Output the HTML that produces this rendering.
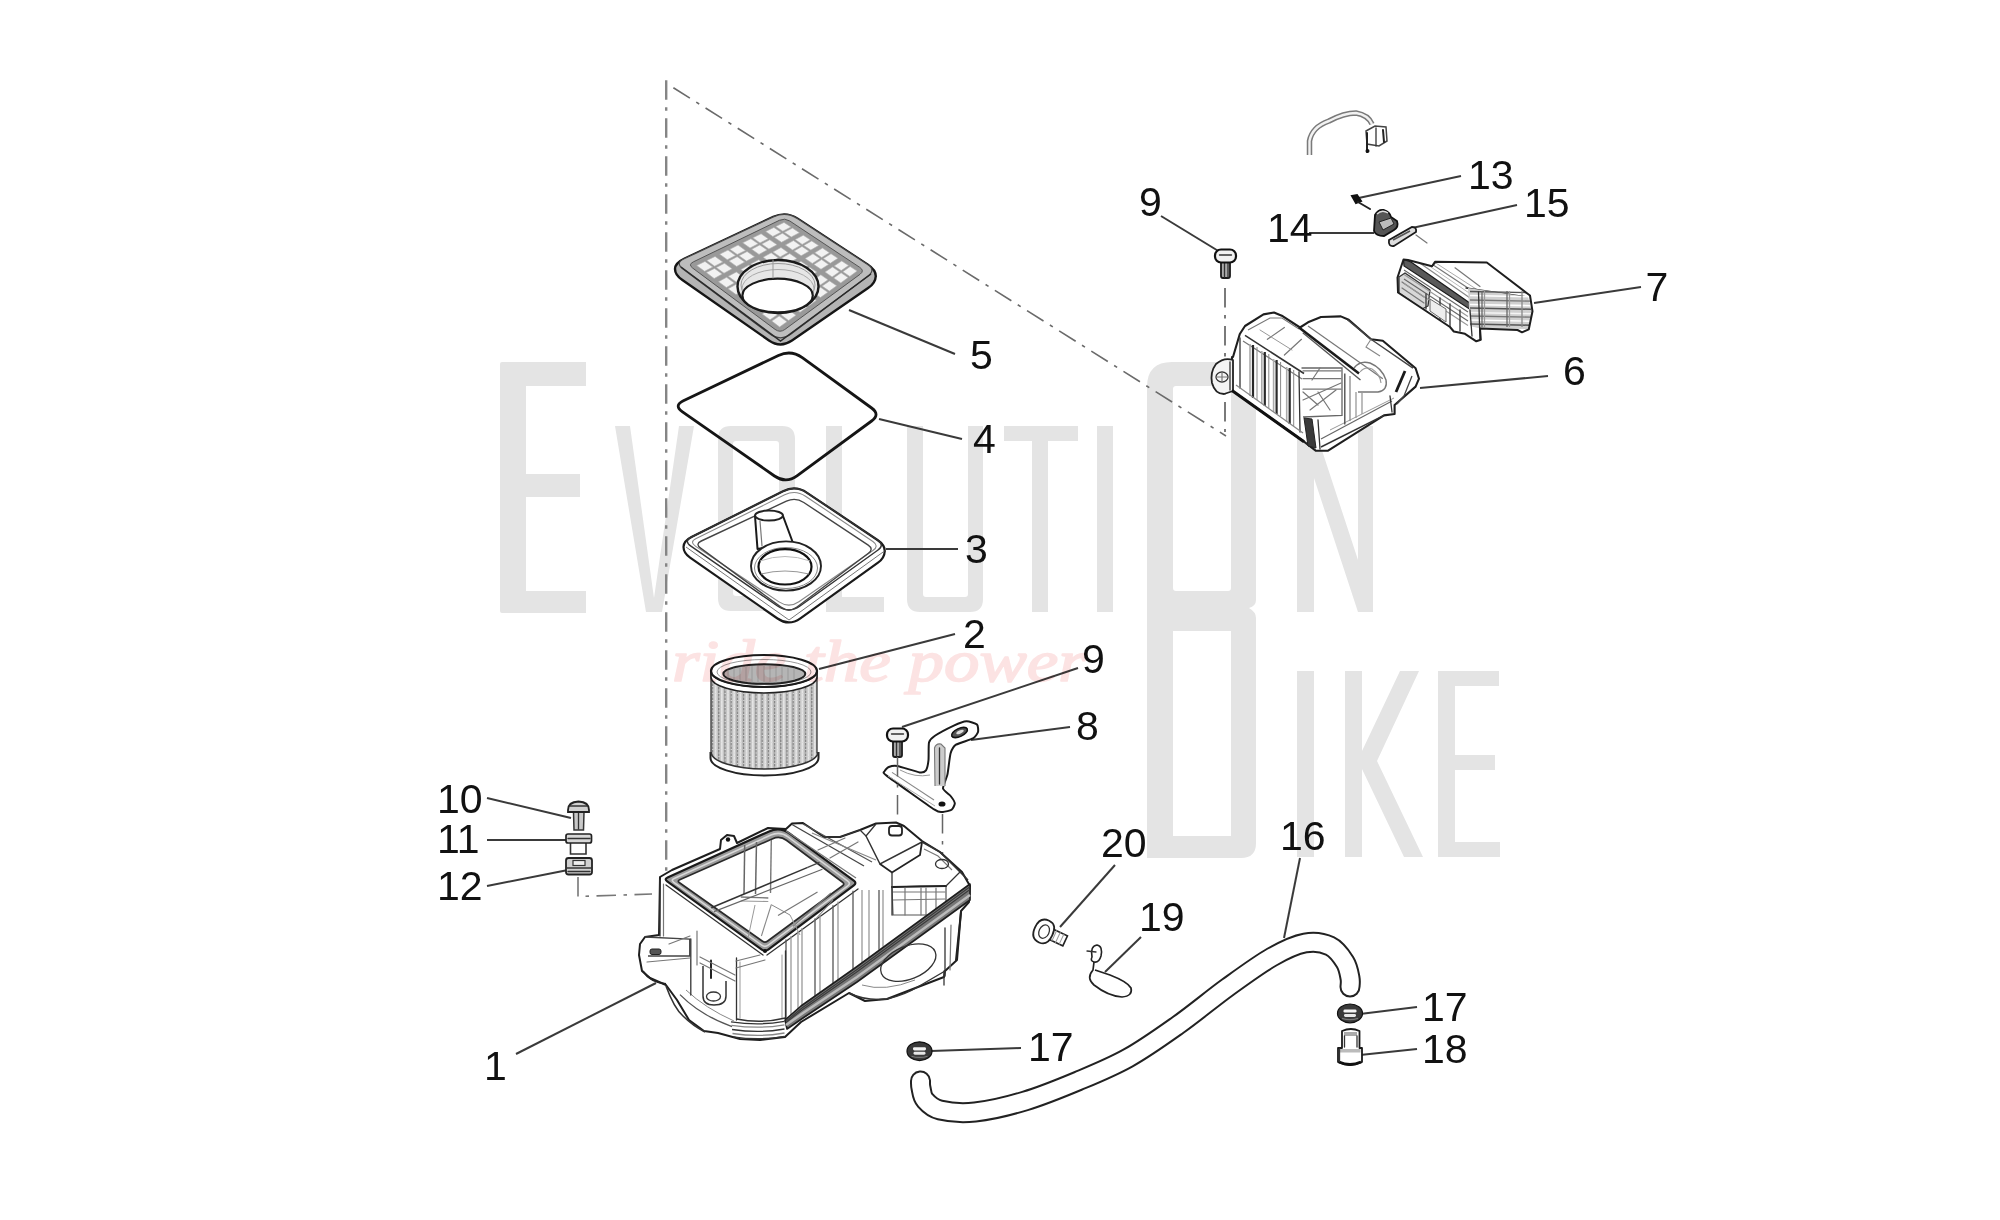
<!DOCTYPE html>
<html><head><meta charset="utf-8">
<style>
html,body{margin:0;padding:0;background:#fff;}
body{width:2000px;height:1220px;overflow:hidden;position:relative;font-family:"Liberation Sans",sans-serif;}
svg{position:absolute;left:0;top:0;filter:blur(0.45px);}
.lbl{font-family:"Liberation Sans",sans-serif;font-size:41px;fill:#111;}
.ld{stroke:#3a3a3a;stroke-width:2;fill:none;}
.dd{stroke:#666;stroke-width:1.6;fill:none;stroke-dasharray:14 5 2 5;}
.k{stroke:#222;stroke-width:2;fill:none;stroke-linejoin:round;stroke-linecap:round;}
.kw{stroke:#222;stroke-width:2;fill:#fff;stroke-linejoin:round;stroke-linecap:round;}
.k3{stroke:#1a1a1a;stroke-width:3;fill:none;stroke-linejoin:round;stroke-linecap:round;}
.k1{stroke:#333;stroke-width:1.3;fill:none;stroke-linejoin:round;stroke-linecap:round;}
.g1{stroke:#777;stroke-width:1.2;fill:none;stroke-linejoin:round;stroke-linecap:round;}
.g2{stroke:#999;stroke-width:1;fill:none;stroke-linejoin:round;stroke-linecap:round;}
</style></head>
<body>
<svg width="2000" height="1220" viewBox="0 0 2000 1220">
<!-- WATERMARK -->
<g id="wm" fill="#e4e4e4">
  <!-- E -->
  <path d="M500,364 Q500,362 502,362 L586,362 L586,386 L526,386 L526,474 L580,474 L580,497 L526,497 L526,591 L586,591 L586,613 L502,613 Q500,613 500,611 Z"/>
  <!-- V -->
  <path d="M615,426 L630,426 L654,598 L679,426 L694,426 L662,612 L646,612 Z"/>
  <!-- O -->
  <path fill-rule="evenodd" d="M731,426 L782,426 Q795,426 795,439 L795,598 Q795,611 782,611 L731,611 Q718,611 718,598 L718,439 Q718,426 731,426 Z M736,441 L776,441 Q779,441 779,444 L779,593 Q779,596 776,596 L736,596 Q733,596 733,593 L733,444 Q733,441 736,441 Z"/>
  <!-- L -->
  <path d="M826,426 L842,426 L842,597 L884,597 L884,612 L826,612 Z"/>
  <!-- U -->
  <path d="M907,426 L923,426 L923,594 Q923,597 926,597 L965,597 Q968,597 968,594 L968,426 L983,426 L983,599 Q983,612 970,612 L920,612 Q907,612 907,599 Z"/>
  <!-- T -->
  <path d="M1004,426 L1078,426 L1078,441 L1048,441 L1048,612 L1032,612 L1032,441 L1004,441 Z"/>
  <!-- I -->
  <rect x="1097" y="426" width="16" height="186"/>
  <!-- big O / B -->
  <path fill-rule="evenodd" d="M1172,362 L1231,362 Q1256,362 1256,387 L1256,600 Q1256,606 1249,608 Q1256,612 1256,618 L1256,843 Q1256,858 1241,858 L1147,858 L1147,387 Q1147,362 1172,362 Z M1176,386 L1228,386 Q1231,386 1231,389 L1231,588 Q1231,591 1228,591 L1176,591 Q1173,591 1173,588 L1173,389 Q1173,386 1176,386 Z M1173,631 L1231,631 L1231,836 L1173,836 Z"/>
  <!-- N -->
  <path d="M1297,426 L1314,426 L1358,560 L1358,426 L1373,426 L1373,612 L1358,612 L1314,478 L1314,612 L1297,612 Z"/>
  <!-- I of IKE -->
  <rect x="1297" y="671" width="17" height="186"/>
  <!-- K -->
  <path d="M1345,671 L1362,671 L1362,751 L1400,671 L1419,671 L1377,761 L1423,857 L1404,857 L1362,769 L1362,857 L1345,857 Z"/>
  <!-- E of IKE -->
  <path d="M1438,671 L1499,671 L1499,686 L1455,686 L1455,755 L1495,755 L1495,770 L1455,770 L1455,842 L1500,842 L1500,857 L1438,857 Z"/>
</g>

<!-- DASH-DOT LINES -->
<g fill="none" stroke-dasharray="19.5 7.5 3.5 7.5">
  <line x1="666.2" y1="80.3" x2="666.2" y2="880" stroke="#858585" stroke-width="2.4"/>
  <line x1="673.4" y1="87.7" x2="1226" y2="436" stroke="#6a6a6a" stroke-width="1.6"/>
  <line x1="1225" y1="288" x2="1225" y2="432" stroke="#7a7a7a" stroke-width="2"/>
</g>
<!-- LEADER LINES -->
<g class="ld">
  <line x1="849" y1="310" x2="955" y2="354"/>
  <line x1="879" y1="419" x2="962" y2="439"/>
  <line x1="886" y1="549" x2="958" y2="549"/>
  <line x1="819" y1="669" x2="955" y2="634"/>
  <line x1="902" y1="727" x2="1078" y2="668"/>
  <line x1="971" y1="740" x2="1070" y2="727"/>
  <line x1="1161" y1="216" x2="1220" y2="252"/>
  <line x1="1354" y1="199" x2="1461" y2="176"/>
  <line x1="1412" y1="228" x2="1517" y2="205"/>
  <line x1="1309" y1="233" x2="1374" y2="233"/>
  <line x1="1534" y1="303" x2="1641" y2="287"/>
  <line x1="1420" y1="388" x2="1548" y2="376"/>
  <line x1="487" y1="798" x2="571" y2="818"/>
  <line x1="487" y1="840" x2="568" y2="840"/>
  <line x1="487" y1="886" x2="568" y2="870"/>
  <line x1="516" y1="1054" x2="656" y2="983"/>
  <line x1="1115" y1="865" x2="1060" y2="927"/>
  <line x1="1300" y1="858" x2="1284" y2="938"/>
  <line x1="1141" y1="937" x2="1105" y2="972"/>
  <line x1="1417" y1="1007" x2="1360" y2="1014"/>
  <line x1="1417" y1="1049" x2="1360" y2="1055"/>
  <line x1="1021" y1="1048" x2="931" y2="1051"/>
</g>

<!-- LABELS -->
<g class="lbl">
  <text x="970" y="369">5</text>
  <text x="973" y="453">4</text>
  <text x="965" y="563">3</text>
  <text x="963" y="648">2</text>
  <text x="1082" y="673">9</text>
  <text x="1076" y="740">8</text>
  <text x="1139" y="216">9</text>
  <text x="1468" y="189">13</text>
  <text x="1524" y="217">15</text>
  <text x="1267" y="242">14</text>
  <text x="1645.5" y="301">7</text>
  <text x="1563" y="385">6</text>
  <text x="437" y="813">10</text>
  <text x="437" y="853">11</text>
  <text x="437" y="900">12</text>
  <text x="484" y="1080">1</text>
  <text x="1101" y="857">20</text>
  <text x="1280" y="850">16</text>
  <text x="1139" y="931">19</text>
  <text x="1422" y="1021">17</text>
  <text x="1422" y="1063">18</text>
  <text x="1028" y="1061">17</text>
</g>

<g id="parts">
<path d="M675.0,269.0 Q675.0,263.0 684.1,258.8 L773.3,216.9 Q786.0,211.0 797.7,218.7 L867.6,264.5 Q876.0,270.0 875.8,276.5 L875.7,276.5 Q875.5,283.0 868.1,288.1 L792.0,340.6 Q780.5,348.5 769.0,340.5 L682.4,280.1 Q675.0,275.0 675.0,269.0 Z" fill="#b4b4b4" stroke="#151515" stroke-width="2.4" stroke-linejoin="round"/>
<path d="M683.0,269.0 Q675.0,263.0 684.1,258.8 L773.3,216.9 Q786.0,211.0 797.7,218.7 L867.6,264.5 Q876.0,270.0 868.0,276.0 L791.7,333.6 Q780.5,342.0 769.3,333.6 Z" fill="#bdbdbd" stroke="#444" stroke-width="1.2"/>
<path d="M692.7,268.1 Q687.9,264.5 693.3,261.9 L779.4,220.3 Q784.8,217.7 789.8,221.0 L859.8,267.4 Q864.8,270.7 860.0,274.3 L784.8,329.5 Q780.0,333.0 775.1,329.4 Z" fill="#999" stroke="#555" stroke-width="1"/>
<path d="M696.7,265.5 L705.0,261.4 L712.8,267.1 L704.6,271.3 Z" fill="#f2f2f2" stroke="#b0b0b0" stroke-width="0.6"/>
<path d="M706.8,260.5 L715.1,256.4 L722.8,262.0 L714.6,266.2 Z" fill="#f2f2f2" stroke="#b0b0b0" stroke-width="0.6"/>
<path d="M706.3,272.6 L714.5,268.4 L722.2,274.1 L714.2,278.5 Z" fill="#f2f2f2" stroke="#b0b0b0" stroke-width="0.6"/>
<path d="M716.3,267.5 L724.5,263.3 L732.1,268.8 L724.0,273.2 Z" fill="#f2f2f2" stroke="#b0b0b0" stroke-width="0.6"/>
<path d="M718.5,281.7 L726.6,277.3 L734.3,283.0 L726.4,287.5 Z" fill="#f2f2f2" stroke="#b0b0b0" stroke-width="0.6"/>
<path d="M728.3,276.3 L736.4,271.9 L744.0,277.5 L736.1,282.0 Z" fill="#f2f2f2" stroke="#b0b0b0" stroke-width="0.6"/>
<path d="M728.1,288.8 L736.1,284.3 L743.8,290.0 L736.0,294.6 Z" fill="#f2f2f2" stroke="#b0b0b0" stroke-width="0.6"/>
<path d="M737.8,283.3 L745.7,278.7 L753.4,284.3 L745.6,288.9 Z" fill="#f2f2f2" stroke="#b0b0b0" stroke-width="0.6"/>
<path d="M740.4,297.9 L748.1,293.1 L755.9,298.8 L748.2,303.7 Z" fill="#f2f2f2" stroke="#b0b0b0" stroke-width="0.6"/>
<path d="M749.9,292.1 L757.7,287.4 L765.3,292.9 L757.6,297.8 Z" fill="#f2f2f2" stroke="#b0b0b0" stroke-width="0.6"/>
<path d="M750.0,305.0 L757.6,300.1 L765.4,305.8 L757.8,310.8 Z" fill="#f2f2f2" stroke="#b0b0b0" stroke-width="0.6"/>
<path d="M759.3,299.0 L767.0,294.2 L774.7,299.7 L767.1,304.7 Z" fill="#f2f2f2" stroke="#b0b0b0" stroke-width="0.6"/>
<path d="M762.2,314.0 L769.7,309.0 L777.5,314.7 L770.0,319.8 Z" fill="#f2f2f2" stroke="#b0b0b0" stroke-width="0.6"/>
<path d="M771.4,307.9 L778.9,302.8 L786.6,308.4 L779.1,313.5 Z" fill="#f2f2f2" stroke="#b0b0b0" stroke-width="0.6"/>
<path d="M771.8,321.1 L779.2,316.0 L787.0,321.7 L779.6,327.0 Z" fill="#f2f2f2" stroke="#b0b0b0" stroke-width="0.6"/>
<path d="M780.9,314.8 L788.3,309.6 L796.0,315.2 L788.6,320.5 Z" fill="#f2f2f2" stroke="#b0b0b0" stroke-width="0.6"/>
<path d="M719.7,254.2 L728.0,250.1 L735.5,255.5 L727.3,259.7 Z" fill="#f2f2f2" stroke="#b0b0b0" stroke-width="0.6"/>
<path d="M729.8,249.2 L738.1,245.1 L745.5,250.4 L737.3,254.5 Z" fill="#f2f2f2" stroke="#b0b0b0" stroke-width="0.6"/>
<path d="M729.0,260.9 L737.2,256.7 L744.7,262.1 L736.6,266.4 Z" fill="#f2f2f2" stroke="#b0b0b0" stroke-width="0.6"/>
<path d="M739.0,255.7 L747.1,251.5 L754.6,256.8 L746.5,261.1 Z" fill="#f2f2f2" stroke="#b0b0b0" stroke-width="0.6"/>
<path d="M740.8,269.5 L748.9,265.1 L756.4,270.4 L748.4,275.0 Z" fill="#f2f2f2" stroke="#b0b0b0" stroke-width="0.6"/>
<path d="M750.6,264.1 L758.7,259.7 L766.1,264.9 L758.1,269.4 Z" fill="#f2f2f2" stroke="#b0b0b0" stroke-width="0.6"/>
<path d="M750.1,276.2 L758.1,271.6 L765.6,277.0 L757.7,281.7 Z" fill="#f2f2f2" stroke="#b0b0b0" stroke-width="0.6"/>
<path d="M759.8,270.6 L767.7,266.1 L775.1,271.3 L767.3,276.0 Z" fill="#f2f2f2" stroke="#b0b0b0" stroke-width="0.6"/>
<path d="M762.0,284.7 L769.8,280.0 L777.3,285.4 L769.6,290.2 Z" fill="#f2f2f2" stroke="#b0b0b0" stroke-width="0.6"/>
<path d="M771.5,279.0 L779.3,274.3 L786.7,279.5 L779.0,284.3 Z" fill="#f2f2f2" stroke="#b0b0b0" stroke-width="0.6"/>
<path d="M771.3,291.5 L779.0,286.6 L786.5,292.0 L778.9,297.0 Z" fill="#f2f2f2" stroke="#b0b0b0" stroke-width="0.6"/>
<path d="M780.7,285.5 L788.3,280.7 L795.7,285.9 L788.2,290.9 Z" fill="#f2f2f2" stroke="#b0b0b0" stroke-width="0.6"/>
<path d="M783.1,300.0 L790.7,295.0 L798.2,300.4 L790.7,305.5 Z" fill="#f2f2f2" stroke="#b0b0b0" stroke-width="0.6"/>
<path d="M792.3,293.9 L799.9,288.8 L807.3,294.1 L799.8,299.2 Z" fill="#f2f2f2" stroke="#b0b0b0" stroke-width="0.6"/>
<path d="M792.4,306.8 L799.8,301.6 L807.4,307.0 L800.0,312.3 Z" fill="#f2f2f2" stroke="#b0b0b0" stroke-width="0.6"/>
<path d="M801.5,300.4 L808.9,295.3 L816.3,300.5 L809.0,305.8 Z" fill="#f2f2f2" stroke="#b0b0b0" stroke-width="0.6"/>
<path d="M742.7,242.8 L750.9,238.8 L758.2,243.8 L750.0,248.0 Z" fill="#f2f2f2" stroke="#b0b0b0" stroke-width="0.6"/>
<path d="M752.8,237.8 L761.1,233.8 L768.2,238.7 L760.0,242.9 Z" fill="#f2f2f2" stroke="#b0b0b0" stroke-width="0.6"/>
<path d="M751.7,249.2 L759.8,244.9 L767.1,250.0 L759.0,254.4 Z" fill="#f2f2f2" stroke="#b0b0b0" stroke-width="0.6"/>
<path d="M761.7,244.0 L769.8,239.8 L777.0,244.7 L768.9,249.1 Z" fill="#f2f2f2" stroke="#b0b0b0" stroke-width="0.6"/>
<path d="M763.1,257.2 L771.2,252.8 L778.4,257.9 L770.5,262.4 Z" fill="#f2f2f2" stroke="#b0b0b0" stroke-width="0.6"/>
<path d="M772.9,251.9 L781.0,247.5 L788.1,252.4 L780.2,256.9 Z" fill="#f2f2f2" stroke="#b0b0b0" stroke-width="0.6"/>
<path d="M772.1,263.6 L780.1,259.0 L787.3,264.1 L779.5,268.8 Z" fill="#f2f2f2" stroke="#b0b0b0" stroke-width="0.6"/>
<path d="M781.8,258.0 L789.7,253.5 L796.9,258.4 L789.1,263.1 Z" fill="#f2f2f2" stroke="#b0b0b0" stroke-width="0.6"/>
<path d="M783.6,271.6 L791.4,266.9 L798.6,272.0 L791.0,276.8 Z" fill="#f2f2f2" stroke="#b0b0b0" stroke-width="0.6"/>
<path d="M793.1,265.9 L800.9,261.2 L808.0,266.1 L800.4,270.9 Z" fill="#f2f2f2" stroke="#b0b0b0" stroke-width="0.6"/>
<path d="M792.6,278.0 L800.3,273.1 L807.5,278.2 L800.0,283.2 Z" fill="#f2f2f2" stroke="#b0b0b0" stroke-width="0.6"/>
<path d="M802.0,272.0 L809.6,267.2 L816.8,272.1 L809.2,277.1 Z" fill="#f2f2f2" stroke="#b0b0b0" stroke-width="0.6"/>
<path d="M804.0,286.0 L811.6,281.0 L818.9,286.1 L811.4,291.2 Z" fill="#f2f2f2" stroke="#b0b0b0" stroke-width="0.6"/>
<path d="M813.3,279.9 L820.8,274.8 L828.0,279.8 L820.5,284.9 Z" fill="#f2f2f2" stroke="#b0b0b0" stroke-width="0.6"/>
<path d="M813.1,292.4 L820.5,287.2 L827.8,292.3 L820.4,297.6 Z" fill="#f2f2f2" stroke="#b0b0b0" stroke-width="0.6"/>
<path d="M822.1,286.1 L829.6,280.9 L836.7,285.8 L829.4,291.1 Z" fill="#f2f2f2" stroke="#b0b0b0" stroke-width="0.6"/>
<path d="M765.7,231.5 L773.9,227.4 L781.0,232.2 L772.8,236.4 Z" fill="#f2f2f2" stroke="#b0b0b0" stroke-width="0.6"/>
<path d="M775.8,226.5 L784.0,222.4 L791.0,227.0 L782.8,231.2 Z" fill="#f2f2f2" stroke="#b0b0b0" stroke-width="0.6"/>
<path d="M774.4,237.4 L782.5,233.2 L789.5,238.0 L781.5,242.3 Z" fill="#f2f2f2" stroke="#b0b0b0" stroke-width="0.6"/>
<path d="M784.3,232.3 L792.5,228.1 L799.4,232.7 L791.3,237.0 Z" fill="#f2f2f2" stroke="#b0b0b0" stroke-width="0.6"/>
<path d="M785.4,245.0 L793.5,240.6 L800.5,245.4 L792.5,249.9 Z" fill="#f2f2f2" stroke="#b0b0b0" stroke-width="0.6"/>
<path d="M795.2,239.6 L803.3,235.2 L810.2,239.8 L802.2,244.4 Z" fill="#f2f2f2" stroke="#b0b0b0" stroke-width="0.6"/>
<path d="M794.1,251.0 L802.0,246.4 L809.1,251.2 L801.2,255.8 Z" fill="#f2f2f2" stroke="#b0b0b0" stroke-width="0.6"/>
<path d="M803.8,245.4 L811.7,240.9 L818.6,245.5 L810.8,250.1 Z" fill="#f2f2f2" stroke="#b0b0b0" stroke-width="0.6"/>
<path d="M805.2,258.5 L813.0,253.8 L820.0,258.6 L812.3,263.4 Z" fill="#f2f2f2" stroke="#b0b0b0" stroke-width="0.6"/>
<path d="M814.7,252.8 L822.5,248.0 L829.4,252.7 L821.7,257.5 Z" fill="#f2f2f2" stroke="#b0b0b0" stroke-width="0.6"/>
<path d="M813.9,264.5 L821.6,259.6 L828.6,264.4 L821.0,269.3 Z" fill="#f2f2f2" stroke="#b0b0b0" stroke-width="0.6"/>
<path d="M823.3,258.5 L831.0,253.7 L837.9,258.3 L830.3,263.3 Z" fill="#f2f2f2" stroke="#b0b0b0" stroke-width="0.6"/>
<path d="M825.0,272.0 L832.5,267.0 L839.5,271.8 L832.1,276.9 Z" fill="#f2f2f2" stroke="#b0b0b0" stroke-width="0.6"/>
<path d="M834.2,265.9 L841.7,260.9 L848.6,265.5 L841.2,270.6 Z" fill="#f2f2f2" stroke="#b0b0b0" stroke-width="0.6"/>
<path d="M833.7,278.0 L841.1,272.8 L848.1,277.6 L840.8,282.9 Z" fill="#f2f2f2" stroke="#b0b0b0" stroke-width="0.6"/>
<path d="M842.8,271.7 L850.2,266.5 L857.1,271.1 L849.8,276.4 Z" fill="#f2f2f2" stroke="#b0b0b0" stroke-width="0.6"/>
<ellipse cx="778" cy="286.5" rx="40.5" ry="26.5" fill="#e6e6e6" stroke="#1a1a1a" stroke-width="2.4"/>
<ellipse cx="778" cy="285" rx="37" ry="21.5" fill="none" stroke="#999" stroke-width="1"/>
<ellipse cx="778" cy="289" rx="36" ry="19.5" fill="none" stroke="#aaa" stroke-width="1"/>
<ellipse cx="777.6" cy="295.5" rx="35.2" ry="16.8" fill="#fff" stroke="#1a1a1a" stroke-width="2.2"/>
<line class="g2" x1="773.0" y1="260.0" x2="773.0" y2="278.0" />
<path d="M681.0,267.0 L780.5,341.0 L871.0,274.0" fill="none" stroke="#2a2a2a" stroke-width="1.5"/>
<path d="M682.5,411.8 Q673.5,405.5 683.4,400.8 L778.4,355.5 Q791.0,349.5 802.3,357.7 L871.6,408.0 Q880.5,414.5 871.6,421.0 L797.3,475.7 Q786.0,484.0 774.5,476.0 Z" fill="none" stroke="#151515" stroke-width="2.8" stroke-linejoin="round"/>
<path d="M683.5,547.0 Q683.5,541.0 691.5,537.0 L783.0,491.3 Q795.5,485.0 807.1,492.8 L877.5,540.0 Q885.0,545.0 884.8,551.5 L884.7,551.5 Q884.5,558.0 878.0,562.7 L800.4,618.3 Q789.0,626.5 777.5,618.5 L690.1,557.6 Q683.5,553.0 683.5,547.0 Z" fill="#fff" stroke="#1a1a1a" stroke-width="2.2" stroke-linejoin="round"/>
<path d="M690.9,546.1 Q683.5,541.0 691.5,537.0 L783.0,491.3 Q795.5,485.0 807.1,492.8 L877.5,540.0 Q885.0,545.0 877.7,550.3 L800.4,605.8 Q789.0,614.0 777.5,606.0 Z" fill="none" stroke="#333" stroke-width="1.4" stroke-linejoin="round"/>
<path d="M695.7,546.4 Q689.0,542.0 696.2,538.5 L784.7,494.8 Q795.5,489.5 805.5,496.2 L872.9,541.5 Q879.5,546.0 872.9,550.5 L798.9,601.7 Q789.0,608.5 779.0,601.9 Z" fill="none" stroke="#888" stroke-width="1.1" stroke-linejoin="round"/>
<path d="M700.6,548.1 Q695.0,544.0 701.3,541.0 L786.4,501.2 Q795.5,497.0 803.8,502.5 L868.2,545.1 Q874.0,549.0 868.4,553.2 L797.0,607.0 Q789.0,613.0 780.9,607.1 Z" fill="none" stroke="#444" stroke-width="1.4" stroke-linejoin="round"/>
<path d="M686,547 L789,620 L884.5,551" fill="none" stroke="#777" stroke-width="1"/>
<path d="M755,516 L757.5,549 L793,543 L783,516" fill="#fff" stroke="#1a1a1a" stroke-width="2" stroke-linejoin="round"/>
<ellipse class="kw" cx="769.0" cy="515.6" rx="14.0" ry="5.0" stroke-width="2"/>
<line class="g1" x1="760.0" y1="521.0" x2="762.0" y2="546.0" />
<ellipse cx="786" cy="566" rx="35" ry="24.6" fill="#fff" stroke="#222" stroke-width="1.9"/>
<ellipse cx="786" cy="568" rx="31.5" ry="20.5" fill="none" stroke="#888" stroke-width="1"/>
<ellipse cx="785" cy="566.8" rx="26.5" ry="17.7" fill="#fff" stroke="#111" stroke-width="2.2"/>
<path d="M761,574 Q785,568 809,574" fill="none" stroke="#999" stroke-width="1.1"/>
<path d="M760,561 Q785,552 810,561" fill="none" stroke="#bbb" stroke-width="1"/>
<clipPath id="c2"><path d="M711.0,671.0 L711.0,677.0 L713.0,681.4 L715.0,683.1 L717.0,684.4 L719.0,685.5 L721.0,686.4 L723.0,687.1 L725.0,687.8 L727.0,688.5 L729.0,689.0 L731.0,689.5 L733.0,690.0 L735.0,690.4 L737.0,690.8 L739.0,691.1 L741.0,691.4 L743.0,691.7 L745.0,691.9 L747.0,692.2 L749.0,692.3 L751.0,692.5 L753.0,692.7 L755.0,692.8 L757.0,692.9 L759.0,692.9 L761.0,693.0 L763.0,693.0 L765.0,693.0 L767.0,693.0 L769.0,692.9 L771.0,692.9 L773.0,692.8 L775.0,692.7 L777.0,692.5 L779.0,692.3 L781.0,692.2 L783.0,691.9 L785.0,691.7 L787.0,691.4 L789.0,691.1 L791.0,690.8 L793.0,690.4 L795.0,690.0 L797.0,689.5 L799.0,689.0 L801.0,688.5 L803.0,687.8 L805.0,687.1 L807.0,686.4 L809.0,685.5 L811.0,684.4 L813.0,683.1 L815.0,681.4 L817.0,677.0 L817.0,671.0 L817.0,752.0 L817.0,754.3 L815.0,757.2 L813.0,758.9 L811.0,760.2 L809.0,761.2 L807.0,762.2 L805.0,763.0 L803.0,763.7 L801.0,764.3 L799.0,764.9 L797.0,765.4 L795.0,765.9 L793.0,766.3 L791.0,766.7 L789.0,767.1 L787.0,767.4 L785.0,767.7 L783.0,767.9 L781.0,768.2 L779.0,768.4 L777.0,768.5 L775.0,768.7 L773.0,768.8 L771.0,768.9 L769.0,768.9 L767.0,769.0 L765.0,769.0 L763.0,769.0 L761.0,769.0 L759.0,768.9 L757.0,768.8 L755.0,768.7 L753.0,768.6 L751.0,768.4 L749.0,768.3 L747.0,768.0 L745.0,767.8 L743.0,767.5 L741.0,767.2 L739.0,766.9 L737.0,766.5 L735.0,766.1 L733.0,765.7 L731.0,765.2 L729.0,764.6 L727.0,764.0 L725.0,763.3 L723.0,762.6 L721.0,761.7 L719.0,760.7 L717.0,759.5 L715.0,758.1 L713.0,756.0 L711.0,752.0 L711.0,752.0 Z"/></clipPath>
<g clip-path="url(#c2)"><rect x="709" y="665" width="112" height="110" fill="#c4c4c4"/>
<line x1="712.5" y1="665" x2="712.5" y2="775" stroke="#888" stroke-width="1.3"/>
<line x1="715.6" y1="665" x2="715.6" y2="775" stroke="#e6e6e6" stroke-width="1.7"/>
<line x1="718.7" y1="665" x2="718.7" y2="775" stroke="#888" stroke-width="1.3"/>
<line x1="721.8" y1="665" x2="721.8" y2="775" stroke="#e6e6e6" stroke-width="1.7"/>
<line x1="724.9" y1="665" x2="724.9" y2="775" stroke="#888" stroke-width="1.3"/>
<line x1="728.0" y1="665" x2="728.0" y2="775" stroke="#e6e6e6" stroke-width="1.7"/>
<line x1="731.1" y1="665" x2="731.1" y2="775" stroke="#888" stroke-width="1.3"/>
<line x1="734.2" y1="665" x2="734.2" y2="775" stroke="#e6e6e6" stroke-width="1.7"/>
<line x1="737.3" y1="665" x2="737.3" y2="775" stroke="#888" stroke-width="1.3"/>
<line x1="740.4" y1="665" x2="740.4" y2="775" stroke="#e6e6e6" stroke-width="1.7"/>
<line x1="743.5" y1="665" x2="743.5" y2="775" stroke="#888" stroke-width="1.3"/>
<line x1="746.6" y1="665" x2="746.6" y2="775" stroke="#e6e6e6" stroke-width="1.7"/>
<line x1="749.7" y1="665" x2="749.7" y2="775" stroke="#888" stroke-width="1.3"/>
<line x1="752.8" y1="665" x2="752.8" y2="775" stroke="#e6e6e6" stroke-width="1.7"/>
<line x1="755.9" y1="665" x2="755.9" y2="775" stroke="#888" stroke-width="1.3"/>
<line x1="759.0" y1="665" x2="759.0" y2="775" stroke="#e6e6e6" stroke-width="1.7"/>
<line x1="762.1" y1="665" x2="762.1" y2="775" stroke="#888" stroke-width="1.3"/>
<line x1="765.2" y1="665" x2="765.2" y2="775" stroke="#e6e6e6" stroke-width="1.7"/>
<line x1="768.3" y1="665" x2="768.3" y2="775" stroke="#888" stroke-width="1.3"/>
<line x1="771.4" y1="665" x2="771.4" y2="775" stroke="#e6e6e6" stroke-width="1.7"/>
<line x1="774.5" y1="665" x2="774.5" y2="775" stroke="#888" stroke-width="1.3"/>
<line x1="777.6" y1="665" x2="777.6" y2="775" stroke="#e6e6e6" stroke-width="1.7"/>
<line x1="780.7" y1="665" x2="780.7" y2="775" stroke="#888" stroke-width="1.3"/>
<line x1="783.8" y1="665" x2="783.8" y2="775" stroke="#e6e6e6" stroke-width="1.7"/>
<line x1="786.9" y1="665" x2="786.9" y2="775" stroke="#888" stroke-width="1.3"/>
<line x1="790.0" y1="665" x2="790.0" y2="775" stroke="#e6e6e6" stroke-width="1.7"/>
<line x1="793.1" y1="665" x2="793.1" y2="775" stroke="#888" stroke-width="1.3"/>
<line x1="796.2" y1="665" x2="796.2" y2="775" stroke="#e6e6e6" stroke-width="1.7"/>
<line x1="799.3" y1="665" x2="799.3" y2="775" stroke="#888" stroke-width="1.3"/>
<line x1="802.4" y1="665" x2="802.4" y2="775" stroke="#e6e6e6" stroke-width="1.7"/>
<line x1="805.5" y1="665" x2="805.5" y2="775" stroke="#888" stroke-width="1.3"/>
<line x1="808.6" y1="665" x2="808.6" y2="775" stroke="#e6e6e6" stroke-width="1.7"/>
<line x1="811.7" y1="665" x2="811.7" y2="775" stroke="#888" stroke-width="1.3"/>
<line x1="814.8" y1="665" x2="814.8" y2="775" stroke="#e6e6e6" stroke-width="1.7"/>
<line x1="817.9" y1="665" x2="817.9" y2="775" stroke="#888" stroke-width="1.3"/>
<line x1="821.0" y1="665" x2="821.0" y2="775" stroke="#e6e6e6" stroke-width="1.7"/>
<line x1="709" y1="676.0" x2="821" y2="676.0" stroke="#d8d8d8" stroke-width="0.9" stroke-dasharray="1.5 1.6"/>
<line x1="709" y1="679.5" x2="821" y2="679.5" stroke="#d8d8d8" stroke-width="0.9" stroke-dasharray="1.5 1.6"/>
<line x1="709" y1="683.0" x2="821" y2="683.0" stroke="#d8d8d8" stroke-width="0.9" stroke-dasharray="1.5 1.6"/>
<line x1="709" y1="686.5" x2="821" y2="686.5" stroke="#d8d8d8" stroke-width="0.9" stroke-dasharray="1.5 1.6"/>
<line x1="709" y1="690.0" x2="821" y2="690.0" stroke="#d8d8d8" stroke-width="0.9" stroke-dasharray="1.5 1.6"/>
<line x1="709" y1="693.5" x2="821" y2="693.5" stroke="#d8d8d8" stroke-width="0.9" stroke-dasharray="1.5 1.6"/>
<line x1="709" y1="697.0" x2="821" y2="697.0" stroke="#d8d8d8" stroke-width="0.9" stroke-dasharray="1.5 1.6"/>
<line x1="709" y1="700.5" x2="821" y2="700.5" stroke="#d8d8d8" stroke-width="0.9" stroke-dasharray="1.5 1.6"/>
<line x1="709" y1="704.0" x2="821" y2="704.0" stroke="#d8d8d8" stroke-width="0.9" stroke-dasharray="1.5 1.6"/>
<line x1="709" y1="707.5" x2="821" y2="707.5" stroke="#d8d8d8" stroke-width="0.9" stroke-dasharray="1.5 1.6"/>
<line x1="709" y1="711.0" x2="821" y2="711.0" stroke="#d8d8d8" stroke-width="0.9" stroke-dasharray="1.5 1.6"/>
<line x1="709" y1="714.5" x2="821" y2="714.5" stroke="#d8d8d8" stroke-width="0.9" stroke-dasharray="1.5 1.6"/>
<line x1="709" y1="718.0" x2="821" y2="718.0" stroke="#d8d8d8" stroke-width="0.9" stroke-dasharray="1.5 1.6"/>
<line x1="709" y1="721.5" x2="821" y2="721.5" stroke="#d8d8d8" stroke-width="0.9" stroke-dasharray="1.5 1.6"/>
<line x1="709" y1="725.0" x2="821" y2="725.0" stroke="#d8d8d8" stroke-width="0.9" stroke-dasharray="1.5 1.6"/>
<line x1="709" y1="728.5" x2="821" y2="728.5" stroke="#d8d8d8" stroke-width="0.9" stroke-dasharray="1.5 1.6"/>
<line x1="709" y1="732.0" x2="821" y2="732.0" stroke="#d8d8d8" stroke-width="0.9" stroke-dasharray="1.5 1.6"/>
<line x1="709" y1="735.5" x2="821" y2="735.5" stroke="#d8d8d8" stroke-width="0.9" stroke-dasharray="1.5 1.6"/>
<line x1="709" y1="739.0" x2="821" y2="739.0" stroke="#d8d8d8" stroke-width="0.9" stroke-dasharray="1.5 1.6"/>
<line x1="709" y1="742.5" x2="821" y2="742.5" stroke="#d8d8d8" stroke-width="0.9" stroke-dasharray="1.5 1.6"/>
<line x1="709" y1="746.0" x2="821" y2="746.0" stroke="#d8d8d8" stroke-width="0.9" stroke-dasharray="1.5 1.6"/>
<line x1="709" y1="749.5" x2="821" y2="749.5" stroke="#d8d8d8" stroke-width="0.9" stroke-dasharray="1.5 1.6"/>
<line x1="709" y1="753.0" x2="821" y2="753.0" stroke="#d8d8d8" stroke-width="0.9" stroke-dasharray="1.5 1.6"/>
<line x1="709" y1="756.5" x2="821" y2="756.5" stroke="#d8d8d8" stroke-width="0.9" stroke-dasharray="1.5 1.6"/>
<line x1="709" y1="760.0" x2="821" y2="760.0" stroke="#d8d8d8" stroke-width="0.9" stroke-dasharray="1.5 1.6"/>
<line x1="709" y1="763.5" x2="821" y2="763.5" stroke="#d8d8d8" stroke-width="0.9" stroke-dasharray="1.5 1.6"/>
<line x1="709" y1="767.0" x2="821" y2="767.0" stroke="#d8d8d8" stroke-width="0.9" stroke-dasharray="1.5 1.6"/>
<line x1="709" y1="770.5" x2="821" y2="770.5" stroke="#d8d8d8" stroke-width="0.9" stroke-dasharray="1.5 1.6"/>
<line x1="709" y1="774.0" x2="821" y2="774.0" stroke="#d8d8d8" stroke-width="0.9" stroke-dasharray="1.5 1.6"/>
<line x1="709" y1="777.5" x2="821" y2="777.5" stroke="#d8d8d8" stroke-width="0.9" stroke-dasharray="1.5 1.6"/>
</g>
<path d="M710.5,752 A54,17.5 0 0 0 818.5,752 L818.5,758 A54,17.5 0 0 1 710.5,758 Z" fill="#fff" stroke="none"/>
<path d="M710.5,752 L710.5,758 A54,17.5 0 0 0 818.5,758 L818.5,752" fill="none" stroke="#222" stroke-width="2"/>
<path d="M711,752 A53.5,17 0 0 0 818,752" fill="none" stroke="#333" stroke-width="1.6"/>
<line class="k1" x1="711.0" y1="671.0" x2="711.0" y2="753.0" stroke="#222" stroke-width="1.8"/>
<line class="k1" x1="817.0" y1="671.0" x2="817.0" y2="753.0" stroke="#222" stroke-width="1.8"/>
<path d="M711,671 A53,16 0 0 0 817,671 L817,677 A53,16 0 0 1 711,677 Z" fill="#fff" stroke="#222" stroke-width="1.6"/>
<ellipse cx="764" cy="671" rx="53" ry="16" fill="#fff" stroke="#1a1a1a" stroke-width="2.2"/>
<ellipse cx="764" cy="672" rx="47" ry="12.5" fill="none" stroke="#999" stroke-width="1"/>
<clipPath id="c2h"><ellipse cx="764.3" cy="674" rx="40" ry="9"/></clipPath>
<ellipse cx="764.3" cy="674" rx="41" ry="9.8" fill="#b5b5b5" stroke="#222" stroke-width="2"/>
<line x1="728.0" y1="666" x2="728.0" y2="683" stroke="#999" stroke-width="1" clip-path="url(#c2h)"/>
<line x1="734.0" y1="666" x2="734.0" y2="683" stroke="#999" stroke-width="1" clip-path="url(#c2h)"/>
<line x1="740.0" y1="666" x2="740.0" y2="683" stroke="#999" stroke-width="1" clip-path="url(#c2h)"/>
<line x1="746.0" y1="666" x2="746.0" y2="683" stroke="#999" stroke-width="1" clip-path="url(#c2h)"/>
<line x1="752.0" y1="666" x2="752.0" y2="683" stroke="#999" stroke-width="1" clip-path="url(#c2h)"/>
<line x1="758.0" y1="666" x2="758.0" y2="683" stroke="#999" stroke-width="1" clip-path="url(#c2h)"/>
<line x1="764.0" y1="666" x2="764.0" y2="683" stroke="#999" stroke-width="1" clip-path="url(#c2h)"/>
<line x1="770.0" y1="666" x2="770.0" y2="683" stroke="#999" stroke-width="1" clip-path="url(#c2h)"/>
<line x1="776.0" y1="666" x2="776.0" y2="683" stroke="#999" stroke-width="1" clip-path="url(#c2h)"/>
<line x1="782.0" y1="666" x2="782.0" y2="683" stroke="#999" stroke-width="1" clip-path="url(#c2h)"/>
<line x1="788.0" y1="666" x2="788.0" y2="683" stroke="#999" stroke-width="1" clip-path="url(#c2h)"/>
<line x1="794.0" y1="666" x2="794.0" y2="683" stroke="#999" stroke-width="1" clip-path="url(#c2h)"/>
<rect x="893.0" y="740.0" width="9.0" height="17.0" rx="2" fill="#aaa" stroke="#1a1a1a" stroke-width="1.8"/>
<line class="k1" x1="896.5" y1="742.0" x2="896.5" y2="756.0" stroke="#fff" stroke-width="1.6"/>
<line class="k1" x1="900.0" y1="742.0" x2="900.0" y2="756.0" stroke="#777" stroke-width="1.2"/>
<rect x="887.0" y="728.5" width="21.0" height="13.0" rx="6.0" fill="#f2f2f2" stroke="#111" stroke-width="2.2"/>
<line class="k1" x1="891.5" y1="734.0" x2="903.5" y2="734.0" stroke="#888" stroke-width="1.6"/>
<rect x="1221.0" y="261.0" width="9.0" height="17.0" rx="2" fill="#aaa" stroke="#1a1a1a" stroke-width="1.8"/>
<line class="k1" x1="1224.5" y1="263.0" x2="1224.5" y2="277.0" stroke="#fff" stroke-width="1.6"/>
<line class="k1" x1="1228.0" y1="263.0" x2="1228.0" y2="277.0" stroke="#777" stroke-width="1.2"/>
<rect x="1215.0" y="249.5" width="21.0" height="13.0" rx="6.0" fill="#f2f2f2" stroke="#111" stroke-width="2.2"/>
<line class="k1" x1="1219.5" y1="255.0" x2="1231.5" y2="255.0" stroke="#888" stroke-width="1.6"/>
<path d="M884.5,771.4 C884.7,770.5 887.5,767.5 888.8,767.0 C890.1,766.5 894.2,765.5 897.3,766.0 C900.4,766.5 916.8,772.0 919.7,772.4 C922.6,772.8 925.1,771.5 926.0,770.3 C926.9,769.1 928.2,762.8 928.5,760.0 C928.8,757.2 928.4,745.0 929.0,742.6 C929.6,740.2 932.1,737.7 934.6,736.0 C937.1,734.3 950.6,727.1 953.8,725.6 C957.0,724.1 964.2,721.4 966.5,721.3 C968.8,721.2 975.9,723.4 977.0,724.5 C978.1,725.6 978.4,730.6 978.0,732.0 C977.6,733.4 975.2,737.1 973.0,738.4 C970.8,739.7 958.2,743.2 956.0,744.7 C953.8,746.2 951.5,750.3 950.6,753.3 C949.7,756.3 948.2,771.1 947.4,774.6 C946.6,778.1 942.7,786.3 943.0,788.4 C943.3,790.5 949.4,794.5 950.6,796.0 C951.8,797.5 954.7,801.9 954.8,803.3 C954.9,804.7 952.8,808.8 951.6,809.7 C950.4,810.6 944.7,811.9 943.0,811.9 C941.3,811.9 940.2,813.3 934.6,809.7 C929.0,806.1 891.6,779.4 886.6,775.6 C881.6,771.8 884.3,772.3 884.5,771.4 Z" fill="#fff" stroke="#1a1a1a" stroke-width="2" stroke-linejoin="round"/>
<path d="M935,786 L934.5,748 Q936,743 941,744 L945,748 L945,786" fill="#ccc" stroke="#777" stroke-width="1.1"/>
<line class="k1" x1="939.5" y1="748.0" x2="939.5" y2="784.0" stroke="#fff" stroke-width="1.5"/>
<path d="M892,772.4 L934,800" fill="none" stroke="#888" stroke-width="1.1"/>
<path d="M900,770 Q915,778 930,775" fill="none" stroke="#999" stroke-width="1"/>
<path d="M888,776 L935,806" fill="none" stroke="#aaa" stroke-width="1"/>
<ellipse cx="959.5" cy="732.5" rx="8.5" ry="4" transform="rotate(-25 959.5 732.5)" fill="#555" stroke="#111" stroke-width="1.6"/>
<ellipse cx="960" cy="732" rx="4" ry="1.6" transform="rotate(-25 960 732)" fill="#ddd"/>
<ellipse cx="942" cy="804" rx="3.5" ry="2.6" fill="#111"/>
<line x1="897.5" y1="757" x2="897.5" y2="822" stroke="#666" stroke-width="1.5" stroke-dasharray="19.5 7.5 3.5 7.5"/>
<line x1="942.5" y1="814" x2="942.5" y2="858" stroke="#666" stroke-width="1.5" stroke-dasharray="19.5 7.5 3.5 7.5"/>
<path d="M660.0,877.0 L672.0,870.0 L720.0,849.0 L721.0,840.0 L727.0,835.0 L734.0,836.0 L737.0,843.0 L768.0,828.0 L786.0,829.0 L792.0,823.5 L803.0,823.0 L824.0,837.0 L840.0,837.0 L860.0,830.0 L876.0,823.5 L896.0,822.5 L904.0,826.0 L922.0,841.0 L940.0,852.0 L962.0,872.0 L970.0,886.0 L969.0,902.0 L961.0,911.0 L957.0,960.0 L945.0,971.0 L944.0,977.0 L918.0,987.0 L887.0,999.0 L865.0,1001.0 L849.0,993.0 L801.0,1022.0 L785.0,1037.0 L760.0,1040.0 L740.0,1039.0 L718.0,1033.0 L704.0,1031.0 L689.0,1020.0 L677.0,1000.0 L666.0,985.0 L650.0,978.0 L642.0,971.0 L639.0,955.0 L640.0,944.0 L645.0,937.0 L659.0,935.0 Z" fill="#fff" stroke="#1e1e1e" stroke-width="2" stroke-linejoin="round"/>
<path d="M667.2,881.3 Q664.0,879.0 667.6,877.4 L769.1,831.4 Q780.0,826.5 789.7,833.6 L853.8,880.6 Q857.0,883.0 853.8,885.4 L768.2,949.6 Q765.0,952.0 761.8,949.7 Z M679.5,882.7 Q677.0,881.0 679.7,879.8 L772.7,838.7 Q780.0,835.5 786.4,840.3 L842.6,882.2 Q845.0,884.0 842.6,885.8 L767.4,941.2 Q765.0,943.0 762.5,941.3 Z" fill="#9a9a9a" fill-rule="evenodd" stroke="none"/>
<path d="M673.8,882.3 Q670.5,880.0 674.2,878.4 L770.9,835.1 Q780.0,831.0 788.0,836.9 L847.8,881.1 Q851.0,883.5 847.8,885.9 L768.2,945.1 Q765.0,947.5 761.7,945.2 Z" fill="none" stroke="#d8d8d8" stroke-width="1.6" stroke-linejoin="round"/>
<path d="M667.2,881.3 Q664.0,879.0 667.6,877.4 L769.1,831.4 Q780.0,826.5 789.7,833.6 L853.8,880.6 Q857.0,883.0 853.8,885.4 L768.2,949.6 Q765.0,952.0 761.8,949.7 Z" fill="none" stroke="#1a1a1a" stroke-width="2.2" stroke-linejoin="round"/>
<path d="M679.5,882.7 Q677.0,881.0 679.7,879.8 L772.7,838.7 Q780.0,835.5 786.4,840.3 L842.6,882.2 Q845.0,884.0 842.6,885.8 L767.4,941.2 Q765.0,943.0 762.5,941.3 Z" fill="none" stroke="#2a2a2a" stroke-width="1.7" stroke-linejoin="round"/>
<line class="k1" x1="666.0" y1="885.0" x2="763.0" y2="955.0" stroke-width="1.6"/>
<line class="k1" x1="767.0" y1="955.0" x2="858.0" y2="889.0" stroke-width="1.4"/>
<circle cx="765" cy="951" r="2" fill="#111"/>
<circle cx="728" cy="839.5" r="2.2" fill="#111"/>
<line x1="744.7" y1="845.0" x2="744.0" y2="894.0" stroke="#666" stroke-width="1.5"/>
<line x1="756.5" y1="842.0" x2="755.5" y2="894.0" stroke="#666" stroke-width="1.5"/>
<line x1="771.3" y1="840.0" x2="770.5" y2="893.0" stroke="#777" stroke-width="1.4"/>
<line x1="740.8" y1="897.0" x2="768.3" y2="898.0" stroke="#777" stroke-width="1.3"/>
<line x1="740.8" y1="901.0" x2="768.3" y2="901.5" stroke="#999" stroke-width="1.1"/>
<line x1="711.3" y1="907.7" x2="807.7" y2="867.4" stroke="#333" stroke-width="1.5"/>
<line x1="714.0" y1="911.6" x2="822.4" y2="869.3" stroke="#666" stroke-width="1.2"/>
<line x1="807.7" y1="867.4" x2="819.5" y2="862.4" stroke="#444" stroke-width="1.3"/>
<line x1="778.0" y1="915.5" x2="817.5" y2="892.0" stroke="#777" stroke-width="1.2"/>
<line x1="793.0" y1="926.4" x2="831.0" y2="893.0" stroke="#777" stroke-width="1.2"/>
<line x1="813.6" y1="921.4" x2="833.0" y2="900.0" stroke="#888" stroke-width="1.1"/>
<line x1="761.4" y1="936.0" x2="771.3" y2="904.7" stroke="#888" stroke-width="1.1"/>
<line x1="748.0" y1="938.0" x2="755.0" y2="905.0" stroke="#999" stroke-width="1.0"/>
<line x1="771.3" y1="904.7" x2="790.0" y2="915.0" stroke="#888" stroke-width="1.0"/>
<line x1="790.0" y1="915.0" x2="800.0" y2="935.0" stroke="#999" stroke-width="1.0"/>
<line x1="792.0" y1="824.5" x2="864.0" y2="866.0" stroke="#444" stroke-width="1.3"/>
<line x1="803.0" y1="824.0" x2="872.0" y2="862.0" stroke="#555" stroke-width="1.3"/>
<line x1="786.0" y1="831.0" x2="856.0" y2="878.0" stroke="#777" stroke-width="1.3"/>
<line x1="812.0" y1="833.0" x2="876.0" y2="860.0" stroke="#888" stroke-width="1.3"/>
<line class="k1" x1="824.0" y1="837.0" x2="840.0" y2="837.0" />
<line class="k1" x1="840.0" y1="837.0" x2="860.0" y2="830.0" />
<line class="g1" x1="818.0" y1="850.0" x2="845.0" y2="838.0" />
<line class="g1" x1="830.0" y1="858.0" x2="858.0" y2="842.0" />
<path d="M860,830 L866,836 L876,824" fill="none" stroke="#333" stroke-width="1.3"/>
<path d="M866,836 L880,864 L922,842" fill="none" stroke="#333" stroke-width="1.5"/>
<path d="M880,864 L892,872.5 L920,855 L922,842" fill="none" stroke="#222" stroke-width="1.8"/>
<rect x="889" y="826" width="13" height="9.5" rx="3" fill="#fff" stroke="#222" stroke-width="1.8"/>
<path d="M922,842 L940,852 L960,872 L968,880" fill="none" stroke="#333" stroke-width="1.5"/>
<path d="M924,849 L938,856 L952,870" fill="none" stroke="#777" stroke-width="1.1"/>
<ellipse class="k1" cx="942.0" cy="864.0" rx="6.5" ry="4.5" stroke-width="1.6"/>
<path d="M892,887 L920,886 L946,886 L946,915 L893,915 Z" fill="none" stroke="#555" stroke-width="1.2"/>
<line class="k" x1="892.0" y1="887.0" x2="946.0" y2="886.0" stroke-width="2.6"/>
<line class="g1" x1="893.0" y1="892.0" x2="945.0" y2="892.0" />
<line class="g1" x1="893.0" y1="900.0" x2="945.0" y2="899.0" />
<line class="g1" x1="905.0" y1="888.0" x2="905.0" y2="915.0" />
<line class="g1" x1="921.0" y1="888.0" x2="921.0" y2="915.0" />
<line class="g1" x1="926.0" y1="888.0" x2="926.0" y2="915.0" />
<line class="g1" x1="936.0" y1="888.0" x2="936.0" y2="915.0" />
<line class="k1" x1="892.0" y1="872.5" x2="892.0" y2="915.0" />
<line class="k1" x1="960.0" y1="872.0" x2="946.0" y2="886.0" />
<line x1="786" y1="939.6" x2="786" y2="1018.7" stroke="#555" stroke-width="1.3"/>
<line x1="791" y1="936.0" x2="791" y2="1015.0" stroke="#999" stroke-width="1.3"/>
<line x1="798" y1="930.9" x2="798" y2="1009.8" stroke="#999" stroke-width="1.3"/>
<line x1="802" y1="927.9" x2="802" y2="1006.8" stroke="#999" stroke-width="1.3"/>
<line x1="815" y1="918.4" x2="815" y2="997.2" stroke="#555" stroke-width="1.3"/>
<line x1="820" y1="914.8" x2="820" y2="993.5" stroke="#999" stroke-width="1.3"/>
<line x1="833" y1="905.3" x2="833" y2="983.8" stroke="#555" stroke-width="1.3"/>
<line x1="838" y1="901.6" x2="838" y2="980.1" stroke="#999" stroke-width="1.3"/>
<line x1="853" y1="890.7" x2="853" y2="969.0" stroke="#555" stroke-width="1.3"/>
<line x1="862" y1="890.0" x2="862" y2="962.3" stroke="#999" stroke-width="1.3"/>
<line x1="869" y1="890.0" x2="869" y2="957.1" stroke="#999" stroke-width="1.3"/>
<line x1="879" y1="890.0" x2="879" y2="949.7" stroke="#555" stroke-width="1.3"/>
<line x1="883" y1="890.0" x2="883" y2="946.7" stroke="#999" stroke-width="1.3"/>
<line class="k1" x1="736.5" y1="958.0" x2="736.5" y2="1020.0" stroke-width="1.5"/>
<line class="k1" x1="785.5" y1="951.0" x2="785.5" y2="1019.0" stroke-width="1.5"/>
<line class="g2" x1="740.0" y1="962.0" x2="740.0" y2="1018.0" />
<line class="g2" x1="782.0" y1="955.0" x2="782.0" y2="1018.0" />
<path d="M736.5,1019 Q761,1024 785.5,1018" fill="none" stroke="#333" stroke-width="1.5"/>
<path d="M731.0,1021.9 Q760,1025.9 784.5,1021.4" fill="none" stroke="#333" stroke-width="1.3"/>
<path d="M731.5,1025.3 Q760,1029.3 784.5,1024.8" fill="none" stroke="#888" stroke-width="1.3"/>
<path d="M732.0,1029.5 Q760,1033.5 784.5,1029.0" fill="none" stroke="#333" stroke-width="1.3"/>
<path d="M732.5,1033.5 Q760,1037.5 784.5,1033.0" fill="none" stroke="#888" stroke-width="1.3"/>
<path d="M733.0,1036.8 Q760,1040.8 784.5,1036.3" fill="none" stroke="#333" stroke-width="1.3"/>
<line class="g1" x1="736.0" y1="961.0" x2="760.0" y2="955.0" />
<line class="g1" x1="736.0" y1="968.0" x2="765.0" y2="960.0" />
<path d="M645,937 L689.7,939 L689.7,956 L648,956" fill="none" stroke="#444" stroke-width="1.3"/>
<path d="M642.8,971 Q650,982 666,984" fill="none" stroke="#222" stroke-width="1.8"/>
<path d="M666,986 Q674,1008 683,1016 Q693,1026 705,1032" fill="none" stroke="#333" stroke-width="1.6"/>
<path d="M680,994.6 Q700,1015 732,1026.6" fill="none" stroke="#555" stroke-width="1.3"/>
<path d="M686,990 Q705,1008 734,1021" fill="none" stroke="#888" stroke-width="1"/>
<rect x="650" y="949" width="11" height="5.5" rx="2" fill="#555" stroke="#222" stroke-width="1"/>
<line class="k1" x1="660.0" y1="880.0" x2="660.0" y2="936.0" stroke-width="1.5"/>
<line class="g1" x1="663.5" y1="884.0" x2="663.5" y2="936.0" />
<line class="k1" x1="690.8" y1="939.0" x2="690.8" y2="995.0" stroke-width="1.3"/>
<line class="g1" x1="697.0" y1="931.0" x2="697.0" y2="965.0" />
<line class="g1" x1="669.0" y1="944.0" x2="690.0" y2="936.0" />
<line class="g1" x1="647.0" y1="962.0" x2="690.0" y2="958.0" />
<path d="M703,966 L703,996 Q703,1005 714,1005 Q726,1005 726,996 L726,981" fill="none" stroke="#333" stroke-width="1.5"/>
<line class="k" x1="711.0" y1="960.5" x2="711.0" y2="978.0" stroke-width="2.6"/>
<ellipse class="k1" cx="713.5" cy="996.5" rx="7.0" ry="4.5" stroke-width="1.6"/>
<line class="g1" x1="700.0" y1="957.0" x2="735.0" y2="975.0" />
<line class="g1" x1="700.0" y1="963.0" x2="735.0" y2="981.0" />
<path d="M970,884 L855,968 L801,1006 L785,1020 L787,1029 L803,1018 L857,982 L970,900 Z" fill="#777" stroke="#1e1e1e" stroke-width="1.6" stroke-linejoin="round"/>
<path d="M970,895 L857,977 L803,1013 L786,1025" fill="none" stroke="#bbb" stroke-width="2.5"/>
<path d="M970,886.8 L856,970.2 L802,1008.0 L786,1021.2" fill="none" stroke="#3a3a3a" stroke-width="1.1"/>
<path d="M970,889.5 L856,972.5 L802,1010.0 L786,1022.5" fill="none" stroke="#3a3a3a" stroke-width="1.1"/>
<ellipse class="k1" cx="908.3" cy="962.6" rx="29.0" ry="16.5" transform="rotate(-22.0 908.3 962.6)" stroke-width="1.9"/>
<path d="M849,993 Q865,1001 887,999 Q905,995 918.5,986.5 L945,971" fill="none" stroke="#333" stroke-width="1.4"/>
<path d="M862,985 Q885,992 915,980" fill="none" stroke="#888" stroke-width="1"/>
<line class="k" x1="961.0" y1="912.0" x2="956.0" y2="960.0" stroke-width="2"/>
<line class="k1" x1="945.0" y1="928.0" x2="945.0" y2="976.0" />
<line class="g1" x1="951.0" y1="925.0" x2="950.0" y2="970.0" />
<line class="k1" x1="944.0" y1="971.0" x2="944.0" y2="985.0" />
<path d="M573.5,812 L574,830 L583.5,830 L584,812 Z" fill="#c8c8c8" stroke="#333" stroke-width="1.5"/>
<line class="k1" x1="578.5" y1="813.0" x2="578.5" y2="829.0" stroke="#ddd" stroke-width="1.5"/>
<path d="M568,810 Q568,802 578.5,801.5 Q589,802 589,810 L589,812 L568,812 Z" fill="#d0d0d0" stroke="#222" stroke-width="1.8"/>
<line class="k1" x1="570.0" y1="806.0" x2="587.0" y2="806.0" stroke="#eee" stroke-width="1.4"/>
<path d="M570.5,843 L570.5,854 L586,854 L586,843" fill="#fff" stroke="#333" stroke-width="1.6"/>
<rect x="566" y="834" width="25.5" height="9" rx="2" fill="#d8d8d8" stroke="#222" stroke-width="1.7"/>
<line class="k1" x1="568.0" y1="838.5" x2="590.0" y2="838.5" stroke="#eee" stroke-width="1.6"/>
<rect x="566" y="858" width="26" height="16.5" rx="2.5" fill="#d0d0d0" stroke="#222" stroke-width="1.8"/>
<rect x="573" y="860.5" width="12" height="5" fill="#eee" stroke="#333" stroke-width="1.2"/>
<line class="k1" x1="567.0" y1="868.0" x2="591.0" y2="868.0" stroke-width="1.5"/>
<line class="k1" x1="568.0" y1="871.5" x2="590.0" y2="871.5" stroke="#eee" stroke-width="1.4"/>
<path d="M578,877 L578,896.5 L652,894" fill="none" stroke="#777" stroke-width="1.6" stroke-dasharray="19.5 7.5 3.5 7.5"/>
<g transform="rotate(25 1045 932)">
<path d="M1050,926 L1067,926 L1067,937 L1050,937 Z" fill="#fff" stroke="#222" stroke-width="1.6"/>
<line class="g2" x1="1055.0" y1="926.0" x2="1055.0" y2="937.0" />
<line class="g2" x1="1059.0" y1="926.0" x2="1059.0" y2="937.0" />
<line class="g2" x1="1063.0" y1="926.0" x2="1063.0" y2="937.0" />
<path d="M1034,932 Q1034,920 1044,920 Q1053,920 1053,932 Q1053,944 1044,944 Q1034,944 1034,932 Z" fill="#fff" stroke="#222" stroke-width="1.8"/>
<ellipse class="k1" cx="1044.0" cy="932.0" rx="5.0" ry="7.0" />
</g>
<path d="M1092,957 Q1090,946 1097,945 Q1103,946 1101,956 Q1099,963 1094,962 Q1090,961 1092,957 Z" fill="none" stroke="#222" stroke-width="1.6"/>
<line class="k1" x1="1087.0" y1="951.0" x2="1096.0" y2="952.0" />
<path d="M1094,962 L1093,970 Q1086,978 1094,985 Q1108,996 1122,997 Q1133,996 1131,988 Q1128,982 1110,975 L1095,970" fill="none" stroke="#222" stroke-width="1.7" stroke-linejoin="round"/>
<ellipse cx="919.5" cy="1051.2" rx="12.5" ry="9.4" fill="#3a3a3a" stroke="#111" stroke-width="1.2"/>
<rect x="913.0" y="1047.2" width="13" height="3.2" rx="1.4" fill="#f4f4f4"/>
<rect x="913.5" y="1051.7" width="12" height="3" rx="1.4" fill="#e8e8e8"/>
<path d="M911.5,1056.2 Q919.5,1058.7 927.5,1056.2" fill="none" stroke="#777" stroke-width="1.2"/>
<ellipse cx="1350.0" cy="1013.4" rx="12.5" ry="9.4" fill="#3a3a3a" stroke="#111" stroke-width="1.2"/>
<rect x="1343.5" y="1009.4" width="13" height="3.2" rx="1.4" fill="#f4f4f4"/>
<rect x="1344.0" y="1013.9" width="12" height="3" rx="1.4" fill="#e8e8e8"/>
<path d="M1342.0,1018.4 Q1350.0,1020.9 1358.0,1018.4" fill="none" stroke="#777" stroke-width="1.2"/>
<path d="M1342,1031 L1342,1048 L1338,1048 L1338,1062 Q1350,1068 1362,1062 L1362,1048 L1359.5,1048 L1359.5,1031 Q1351,1027 1342,1031 Z" fill="#fff" stroke="#1a1a1a" stroke-width="1.8" stroke-linejoin="round"/>
<rect x="1344" y="1032" width="13" height="4" fill="#aaa"/>
<line class="k1" x1="1344.5" y1="1036.0" x2="1344.5" y2="1047.0" stroke="#555" stroke-width="2"/>
<line class="k1" x1="1357.0" y1="1036.0" x2="1357.0" y2="1047.0" stroke="#777" stroke-width="1.6"/>
<rect x="1339.5" y="1049" width="21" height="3.5" fill="#bbb"/>
<path d="M1339,1062 Q1350,1067 1361,1062" fill="none" stroke="#111" stroke-width="3"/>
<line class="k1" x1="1339.5" y1="1049.0" x2="1339.5" y2="1061.0" stroke="#888" stroke-width="2"/>
<path d="M920.5,1081.0 C920.6,1082.2 920.2,1084.8 921.0,1088.0 C921.8,1091.2 921.8,1096.3 925.0,1100.0 C928.2,1103.7 931.7,1108.0 940.0,1110.0 C948.3,1112.0 960.8,1113.5 975.0,1112.0 C989.2,1110.5 1007.8,1106.2 1025.0,1101.0 C1042.2,1095.8 1060.8,1088.2 1078.0,1081.0 C1095.2,1073.8 1111.3,1067.3 1128.0,1058.0 C1144.7,1048.7 1161.3,1036.8 1178.0,1025.0 C1194.7,1013.2 1212.3,998.3 1228.0,987.0 C1243.7,975.7 1259.2,964.3 1272.0,957.0 C1284.8,949.7 1295.3,944.8 1305.0,943.0 C1314.7,941.2 1323.3,942.8 1330.0,946.0 C1336.7,949.2 1341.7,956.7 1345.0,962.0 C1348.3,967.3 1349.2,973.8 1350.0,978.0 C1350.8,982.2 1350.0,985.5 1350.0,987.0" fill="none" stroke="#222" stroke-width="21" stroke-linecap="round" stroke-linejoin="round"/>
<path d="M920.5,1081.0 C920.6,1082.2 920.2,1084.8 921.0,1088.0 C921.8,1091.2 921.8,1096.3 925.0,1100.0 C928.2,1103.7 931.7,1108.0 940.0,1110.0 C948.3,1112.0 960.8,1113.5 975.0,1112.0 C989.2,1110.5 1007.8,1106.2 1025.0,1101.0 C1042.2,1095.8 1060.8,1088.2 1078.0,1081.0 C1095.2,1073.8 1111.3,1067.3 1128.0,1058.0 C1144.7,1048.7 1161.3,1036.8 1178.0,1025.0 C1194.7,1013.2 1212.3,998.3 1228.0,987.0 C1243.7,975.7 1259.2,964.3 1272.0,957.0 C1284.8,949.7 1295.3,944.8 1305.0,943.0 C1314.7,941.2 1323.3,942.8 1330.0,946.0 C1336.7,949.2 1341.7,956.7 1345.0,962.0 C1348.3,967.3 1349.2,973.8 1350.0,978.0 C1350.8,982.2 1350.0,985.5 1350.0,987.0" fill="none" stroke="#fff" stroke-width="17" stroke-linecap="round" stroke-linejoin="round"/>
<path d="M1233.0,357.0 L1239.8,334.0 L1245.0,326.0 L1263.5,314.4 L1274.0,312.5 L1281.8,315.7 L1300.0,327.5 L1308.0,322.3 L1321.0,317.0 L1340.8,316.4 L1348.7,319.7 L1371.0,339.3 L1382.8,340.7 L1415.6,368.2 L1419.0,378.7 L1415.6,386.6 L1394.6,405.0 L1394.6,414.0 L1384.0,415.4 L1327.7,450.8 L1316.0,450.8 L1304.0,441.7 L1232.0,390.5 L1232.0,357.0 Z" fill="#fff" stroke="#1e1e1e" stroke-width="2.1" stroke-linejoin="round"/>
<path d="M1233,360 Q1224,357 1216,364 Q1210,372 1212,383 Q1215,394 1224,394 L1233,391 Z" fill="#f4f4f4" stroke="#222" stroke-width="1.8" stroke-linejoin="round"/>
<ellipse class="k1" cx="1222.0" cy="377.0" rx="6.0" ry="5.0" stroke-width="1.4"/>
<line class="g1" x1="1216.0" y1="377.0" x2="1228.0" y2="377.0" />
<line class="g1" x1="1222.0" y1="372.0" x2="1222.0" y2="382.0" />
<line class="k1" x1="1230.0" y1="362.0" x2="1230.0" y2="390.0" />
<path d="M1245,335.4 L1304,373.5" fill="none" stroke="#333" stroke-width="1.6"/>
<path d="M1243,341 L1302,379" fill="none" stroke="#777" stroke-width="1.2"/>
<path d="M1248,330 L1270,318 L1282,318 L1299,329" fill="none" stroke="#777" stroke-width="1.1"/>
<line class="g1" x1="1267.4" y1="339.3" x2="1284.4" y2="327.5" />
<line class="g1" x1="1284.4" y1="355.0" x2="1301.5" y2="339.3" />
<line class="g2" x1="1260.0" y1="330.0" x2="1292.0" y2="350.0" />
<path d="M1299,327.5 L1359,373.5" fill="none" stroke="#1a1a1a" stroke-width="2.6"/>
<path d="M1302.8,332.8 L1360.5,380" fill="none" stroke="#555" stroke-width="1.4"/>
<path d="M1308,326 L1382.8,378.7" fill="none" stroke="#777" stroke-width="1.2"/>
<path d="M1347.4,319.7 L1371,339.3 L1413,368.2" fill="none" stroke="#444" stroke-width="1.4"/>
<path d="M1371,339.3 L1366,347 L1380,356" fill="none" stroke="#888" stroke-width="1.1"/>
<path d="M1354,368 Q1360,360 1370,363 Q1382,368 1386,380 Q1388,390 1378,392 L1358,392" fill="none" stroke="#777" stroke-width="1.4"/>
<path d="M1360,372 Q1365,366 1372,369 Q1380,374 1381,383" fill="none" stroke="#999" stroke-width="1.1"/>
<path d="M1301.5,368 L1342,368 L1342,415.4 L1303,417" fill="none" stroke="#666" stroke-width="1.3"/>
<line class="g1" x1="1303.0" y1="370.8" x2="1341.0" y2="370.8" />
<line class="g1" x1="1303.0" y1="378.7" x2="1341.0" y2="378.7" />
<line class="g1" x1="1303.0" y1="389.2" x2="1341.0" y2="389.2" />
<line class="g1" x1="1303.0" y1="400.0" x2="1341.0" y2="383.0" />
<line class="g1" x1="1310.0" y1="410.0" x2="1336.0" y2="390.0" />
<line class="g1" x1="1318.0" y1="392.0" x2="1330.0" y2="410.0" />
<line class="g1" x1="1303.0" y1="392.0" x2="1318.0" y2="405.0" />
<line class="g1" x1="1320.0" y1="368.0" x2="1312.0" y2="380.0" />
<line x1="1253.0" y1="345.0" x2="1253.0" y2="398.0" stroke="#2a2a2a" stroke-width="2.2"/>
<line x1="1250.0" y1="344.0" x2="1250.0" y2="396.0" stroke="#aaa" stroke-width="1.6"/>
<line x1="1257.0" y1="347.0" x2="1257.0" y2="400.0" stroke="#888" stroke-width="1"/>
<line x1="1264.8" y1="352.0" x2="1264.8" y2="406.0" stroke="#2a2a2a" stroke-width="2.2"/>
<line x1="1261.8" y1="351.0" x2="1261.8" y2="404.0" stroke="#aaa" stroke-width="1.6"/>
<line x1="1268.8" y1="354.0" x2="1268.8" y2="408.0" stroke="#888" stroke-width="1"/>
<line x1="1276.6" y1="360.0" x2="1276.6" y2="414.0" stroke="#2a2a2a" stroke-width="2.2"/>
<line x1="1273.6" y1="359.0" x2="1273.6" y2="412.0" stroke="#aaa" stroke-width="1.6"/>
<line x1="1280.6" y1="362.0" x2="1280.6" y2="416.0" stroke="#888" stroke-width="1"/>
<line x1="1289.7" y1="368.0" x2="1289.7" y2="424.0" stroke="#2a2a2a" stroke-width="2.2"/>
<line x1="1286.7" y1="367.0" x2="1286.7" y2="422.0" stroke="#aaa" stroke-width="1.6"/>
<line x1="1293.7" y1="370.0" x2="1293.7" y2="426.0" stroke="#888" stroke-width="1"/>
<line class="k1" x1="1240.0" y1="338.0" x2="1240.0" y2="388.0" stroke="#777"/>
<line class="k1" x1="1299.0" y1="372.0" x2="1300.0" y2="432.0" />
<path d="M1232,390.5 L1304,441.7" fill="none" stroke="#111" stroke-width="3"/>
<path d="M1236,385 L1303,433" fill="none" stroke="#888" stroke-width="1.3"/>
<path d="M1304,418 L1312,419 L1316,448 L1308,446 Z" fill="#3a3a3a" stroke="#222" stroke-width="1"/>
<line class="k1" x1="1318.0" y1="420.0" x2="1320.0" y2="449.0" />
<path d="M1321,447 L1384,415.4" fill="none" stroke="#333" stroke-width="1.5"/>
<path d="M1321,439 L1392,401" fill="none" stroke="#666" stroke-width="1.2"/>
<path d="M1330,430 L1394,398" fill="none" stroke="#999" stroke-width="1"/>
<line x1="1344.8" y1="373.5" x2="1344.8" y2="424.6" stroke="#444" stroke-width="1.3"/>
<line x1="1350.0" y1="376.0" x2="1350.0" y2="421.0" stroke="#888" stroke-width="1.3"/>
<line x1="1356.0" y1="392.0" x2="1356.0" y2="418.0" stroke="#999" stroke-width="1.3"/>
<line x1="1362.0" y1="392.0" x2="1362.0" y2="414.0" stroke="#999" stroke-width="1.3"/>
<path d="M1405,371 L1396,392" fill="none" stroke="#1a1a1a" stroke-width="2.8"/>
<path d="M1412,376 L1404,396 L1397,404" fill="none" stroke="#444" stroke-width="1.3"/>
<line class="k1" x1="1390.0" y1="396.0" x2="1392.0" y2="412.0" />
<clipPath id="c7"><path d="M1403.5,259.5 L1408.0,260.0 L1432.0,266.3 L1435.0,261.8 L1486.8,262.5 L1530.0,295.5 L1532.5,311.3 L1528.8,329.3 L1522.0,332.3 L1517.5,330.0 L1480.0,328.5 L1480.8,339.8 L1476.3,341.3 L1465.0,333.8 L1453.8,331.5 L1450.0,327.0 L1427.5,312.0 L1398.0,292.5 L1397.5,277.5 Z"/></clipPath>
<path d="M1403.5,259.5 L1408.0,260.0 L1432.0,266.3 L1435.0,261.8 L1486.8,262.5 L1530.0,295.5 L1532.5,311.3 L1528.8,329.3 L1522.0,332.3 L1517.5,330.0 L1480.0,328.5 L1480.8,339.8 L1476.3,341.3 L1465.0,333.8 L1453.8,331.5 L1450.0,327.0 L1427.5,312.0 L1398.0,292.5 L1397.5,277.5 Z" fill="#fff" stroke="none"/>
<g clip-path="url(#c7)">
<path d="M1399,277 L1405,273 L1430,290 L1428,306 L1422,309 L1399,293 Z" fill="#d8d8d8" stroke="#333" stroke-width="1.3" stroke-linejoin="round"/>
<line class="g1" x1="1402.0" y1="282.0" x2="1424.0" y2="297.0" />
<line class="g1" x1="1402.0" y1="288.0" x2="1424.0" y2="303.0" />
<path d="M1403.5,259.5 L1411,262 L1474,306 L1471,310 L1404,266 Z" fill="#5a5a5a" stroke="#1a1a1a" stroke-width="1.2"/>
<line x1="1417.6" y1="261.6" x2="1477.6" y2="303.2" stroke="#888" stroke-width="1.2"/>
<line x1="1421.4" y1="260.6" x2="1481.4" y2="301.3" stroke="#bbb" stroke-width="1.0"/>
<line x1="1425.3" y1="259.7" x2="1485.3" y2="299.4" stroke="#777" stroke-width="1.2"/>
<line x1="1429.1" y1="258.7" x2="1489.1" y2="297.4" stroke="#aaa" stroke-width="1.0"/>
<line class="k1" x1="1432.0" y1="266.3" x2="1436.0" y2="262.0" />
<line class="g1" x1="1455.0" y1="267.8" x2="1480.0" y2="286.5" />
<line class="k1" x1="1466.0" y1="288.0" x2="1527.0" y2="297.0" stroke-width="1.5"/>
<path d="M1468,288 L1528,297 L1532,311 L1528,329 L1480,328.5 L1470,326 Z" fill="#d0d0d0" stroke="none"/>
<line x1="1470" y1="291.5" x2="1531" y2="292.7" stroke="#555" stroke-width="1.4"/>
<line x1="1470" y1="295.5" x2="1531" y2="296.7" stroke="#fff" stroke-width="1.5"/>
<line x1="1470" y1="300.0" x2="1531" y2="301.2" stroke="#777" stroke-width="1.3"/>
<line x1="1470" y1="304.5" x2="1531" y2="305.7" stroke="#fff" stroke-width="1.6"/>
<line x1="1470" y1="308.0" x2="1531" y2="309.2" stroke="#555" stroke-width="1.5"/>
<line x1="1470" y1="312.5" x2="1531" y2="313.7" stroke="#f4f4f4" stroke-width="1.5"/>
<line x1="1470" y1="316.0" x2="1531" y2="317.2" stroke="#777" stroke-width="1.3"/>
<line x1="1470" y1="320.0" x2="1531" y2="321.2" stroke="#fff" stroke-width="1.4"/>
<line x1="1470" y1="324.0" x2="1531" y2="325.2" stroke="#555" stroke-width="1.5"/>
<line x1="1482.0" y1="291" x2="1482.0" y2="327" stroke="#666" stroke-width="1.3"/>
<line x1="1484.5" y1="291" x2="1484.5" y2="327" stroke="#999" stroke-width="1.3"/>
<line x1="1507.0" y1="291" x2="1507.0" y2="327" stroke="#666" stroke-width="1.3"/>
<line x1="1509.5" y1="291" x2="1509.5" y2="327" stroke="#999" stroke-width="1.3"/>
<line x1="1522.0" y1="291" x2="1522.0" y2="327" stroke="#888" stroke-width="1.3"/>
<line class="k1" x1="1478.5" y1="292.0" x2="1480.0" y2="340.0" stroke-width="1.8"/>
<line class="k1" x1="1470.0" y1="310.0" x2="1472.0" y2="336.0" stroke-width="1.6"/>
<line x1="1404.0" y1="270.0" x2="1468.0" y2="312.0" stroke="#666" stroke-width="1.1"/>
<line x1="1404.0" y1="274.5" x2="1468.0" y2="316.5" stroke="#999" stroke-width="1.1"/>
<line x1="1404.0" y1="279.0" x2="1468.0" y2="321.0" stroke="#666" stroke-width="1.1"/>
<line x1="1404.0" y1="283.5" x2="1468.0" y2="325.5" stroke="#999" stroke-width="1.1"/>
<line class="k1" x1="1426.0" y1="294.0" x2="1426.0" y2="309.0" stroke-width="1.6"/>
<line class="k1" x1="1450.0" y1="303.8" x2="1450.0" y2="328.0" stroke-width="1.6"/>
<line class="k1" x1="1440.0" y1="298.0" x2="1440.0" y2="320.0" stroke-width="1.6"/>
<line class="k1" x1="1460.0" y1="310.0" x2="1460.0" y2="331.0" stroke-width="1.6"/>
<path d="M1430,299 L1446,309 L1446,322 L1430,311 Z" fill="#eee" stroke="#666" stroke-width="1"/>
</g>
<path d="M1403.5,259.5 L1408.0,260.0 L1432.0,266.3 L1435.0,261.8 L1486.8,262.5 L1530.0,295.5 L1532.5,311.3 L1528.8,329.3 L1522.0,332.3 L1517.5,330.0 L1480.0,328.5 L1480.8,339.8 L1476.3,341.3 L1465.0,333.8 L1453.8,331.5 L1450.0,327.0 L1427.5,312.0 L1398.0,292.5 L1397.5,277.5 Z" fill="none" stroke="#1e1e1e" stroke-width="2" stroke-linejoin="round"/>
<path d="M1309.5,155 L1309.5,141 Q1312,127 1329,121 Q1344,113 1356,113 Q1368,115 1372,124" fill="none" stroke="#7a7a7a" stroke-width="5.5" stroke-linecap="butt"/>
<path d="M1309.5,155 L1309.5,141 Q1312,127 1329,121 Q1344,113 1356,113 Q1368,115 1372,124" fill="none" stroke="#f2f2f2" stroke-width="2.4"/>
<path d="M1366,131 L1375,126 L1386,127 L1387,141 L1379,146 L1367,144 Z" fill="#fff" stroke="#444" stroke-width="1.5"/>
<line class="k" x1="1367.0" y1="133.0" x2="1367.0" y2="152.0" stroke-width="3"/>
<line class="k1" x1="1376.0" y1="128.0" x2="1376.0" y2="146.0" />
<circle cx="1367.5" cy="151" r="2" fill="#111"/>
<line class="k" x1="1383.0" y1="130.0" x2="1384.0" y2="142.0" stroke-width="2.4"/>
<path d="M1352,196 L1357,195 L1361,201 L1356,203 Z" fill="#111" stroke="#111" stroke-width="2"/>
<line class="k" x1="1358.0" y1="202.0" x2="1370.0" y2="209.0" stroke-width="1.8"/>
<path d="M1375,215 Q1378,209 1384,210 Q1390,212 1391,217 L1397,221 Q1399,227 1394,230 L1384,236 Q1376,236 1374,231 Z" fill="#555" stroke="#111" stroke-width="1.8"/>
<path d="M1379,222 L1391,218 L1394,224 L1383,230 Z" fill="#bbb" stroke="#222" stroke-width="1"/>
<path d="M1377,214 Q1382,209 1388,213" fill="none" stroke="#ddd" stroke-width="1.3"/>
<path d="M1389,240 L1412,227 Q1417,227 1416,232 L1394,246 Q1388,247 1389,240 Z" fill="#ddd" stroke="#1a1a1a" stroke-width="1.8"/>
<path d="M1393,240 L1410,231" fill="none" stroke="#555" stroke-width="1.6"/>
<line class="g1" x1="1416.0" y1="235.0" x2="1427.0" y2="243.0" />
</g>
<text x="672" y="681" font-family="Liberation Serif" font-style="italic" font-size="60" fill="#fce3e3" stroke="#fce3e3" stroke-width="1.6" stroke-linejoin="round" textLength="414" lengthAdjust="spacingAndGlyphs" style="mix-blend-mode:multiply">ride the power</text>
</svg>
</body></html>
